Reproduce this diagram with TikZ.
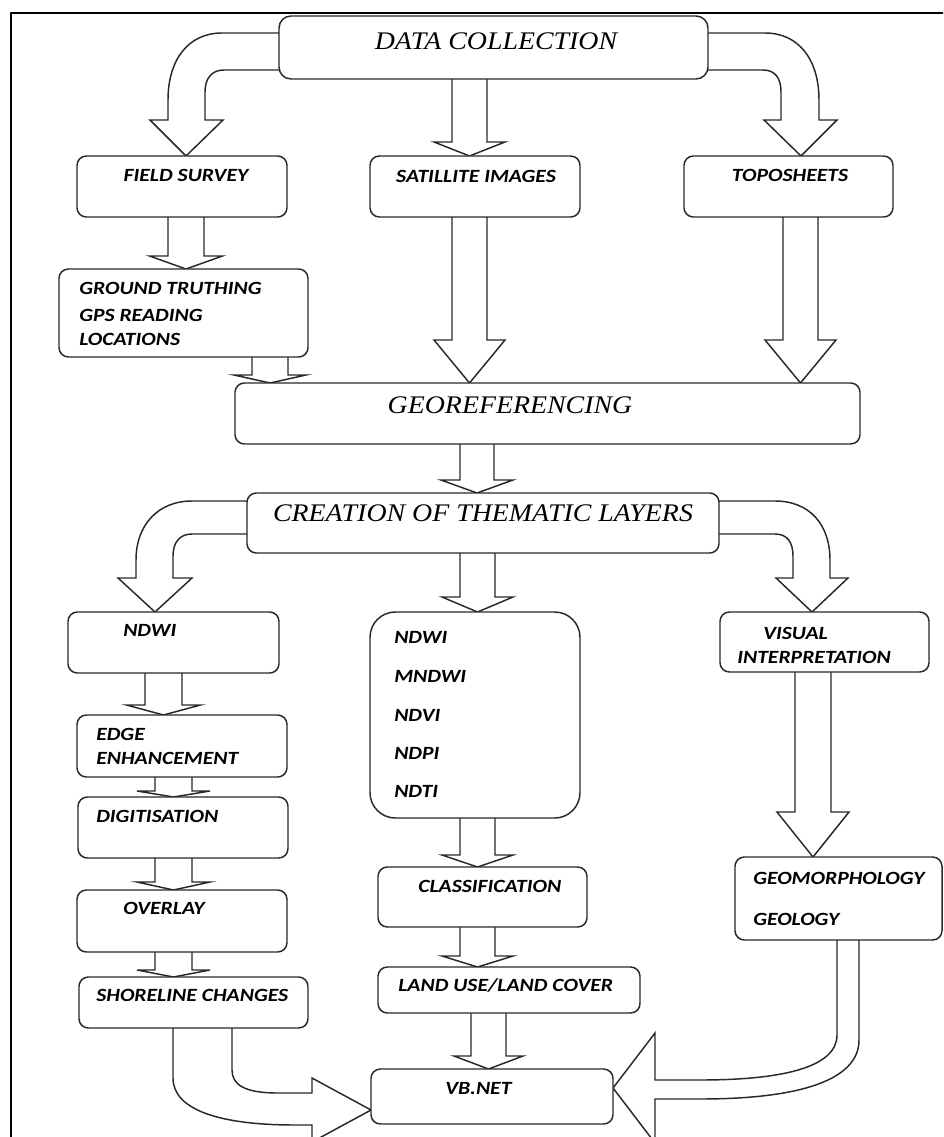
\documentclass[tikz,border=0pt]{standalone}
\usepackage{fontspec}
\setmainfont{Liberation Serif}
\newfontfamily\labfont[FakeStretch=1.16]{Carlito}
\newfontfamily\ttlfont[FakeStretch=1.1]{Liberation Serif}
\usetikzlibrary{backgrounds}
\definecolor{boxline}{RGB}{40,40,40}

\begin{document}
\begin{tikzpicture}[x=0.75pt,y=-0.75pt,line join=round,
    bx/.style 2 args={draw=boxline,line width=1.1pt,fill=white,rounded corners=7pt,
        inner sep=0pt,outer sep=0pt,minimum width=#1*0.75pt,minimum height=#2*0.75pt},
    blk/.style={draw=boxline,line width=1.1pt,fill=white,line join=miter},
    lab/.style={font=\labfont\bfseries\itshape\fontsize{14}{16}\selectfont,inner sep=0pt,anchor=west},
    ttl/.style={font=\ttlfont\itshape\fontsize{19}{22}\selectfont,inner sep=0pt}]
    \useasboundingbox (0,0) rectangle (943,1137);
    \clip (0,0) rectangle (943,1137);

    \draw[black,line width=1.1pt] (11,1140) -- (11,13) -- (946,13);

    \node[bx={429}{63},rounded corners=9pt] (dc) at (493.5,47.5) {};
    \node[bx={210}{61}] (fs) at (182,186.5) {};
    \node[bx={210}{61}] (si) at (475,186.5) {};
    \node[bx={209}{61}] (tp) at (788.5,186.5) {};
    \node[bx={249}{88}] (gt) at (183.5,313) {};
    \node[bx={625}{61}] (geo) at (547.5,413.5) {};
    \node[bx={472}{60}] (ctl) at (483,523) {};
    \node[bx={211}{61}] (nd) at (173.5,642.5) {};
    \node[bx={210}{206},rounded corners=19pt] (ix) at (475,715) {};
    \node[bx={209}{60}] (vi) at (824.5,642) {};
    \node[bx={210}{62}] (ee) at (182,746) {};
    \node[bx={210}{61}] (dg) at (183,827.5) {};
    \node[bx={210}{62}] (ov) at (182,921) {};
    \node[bx={229}{51}] (sc) at (193.5,1002.5) {};
    \node[bx={209}{60}] (cl) at (482.5,897) {};
    \node[bx={262}{46}] (lu) at (509,990) {};
    \node[bx={242}{55}] (vb) at (492,1096.5) {};
    \node[bx={207}{83}] (gg) at (838.5,898.5) {};

    \node[ttl] (dc-t) at (496,41) {DATA COLLECTION};
    \node[ttl] (geo-t) at (510,405) {GEOREFERENCING};
    \node[ttl] (ctl-t) at (483,513) {CREATION OF THEMATIC LAYERS};

    \node[lab,anchor=center] (fs-t) at (186,175) {FIELD SURVEY};
    \node[lab,anchor=center] (si-t) at (476,176) {SATILLITE IMAGES};
    \node[lab,anchor=center] (tp-t) at (790,175) {TOPOSHEETS};
    \foreach \y/\t [count=\i] in {288/GROUND TRUTHING,315/GPS READING,339/LOCATIONS} {
        \node[lab] (gt-\i) at (79,\y) {\t};
    }
    \foreach \y/\t [count=\i] in {637/NDWI,676/MNDWI,715/NDVI,753/NDPI,791/NDTI} {
        \node[lab] (ix-\i) at (394,\y) {\t};
    }
    \node[lab] (nd-t) at (123,630) {NDWI};
    \node[lab] (vi-1) at (763,633) {VISUAL};
    \node[lab] (vi-2) at (737,657) {INTERPRETATION};
    \node[lab] (ee-1) at (96,734) {EDGE};
    \node[lab] (ee-2) at (96,758) {ENHANCEMENT};
    \node[lab] (dg-t) at (96,816) {DIGITISATION};
    \node[lab] (ov-t) at (123,908) {OVERLAY};
    \node[lab] (sc-t) at (96,995) {SHORELINE CHANGES};
    \node[lab] (cl-t) at (418,886) {CLASSIFICATION};
    \node[lab] (lu-t) at (398,986) {LAND USE/LAND COVER};
    \node[lab] (vb-t) at (445,1088) {VB.NET};
    \node[lab] (gg-1) at (753,878) {GEOMORPHOLOGY};
    \node[lab] (gg-2) at (753,919) {GEOLOGY};

    \begin{scope}[on background layer]
        \foreach \a/\b/\xc/\s/\h/\yb in {dc/si/469.5/17.5/35.5/142, si/geo/469.5/17.5/35.5/340,
                tp/geo/800.5/17.5/35.5/340, fs/gt/186/18/36.5/256, gt/geo/270/18/36/375,
                geo/ctl/477/17/36/480, ctl/ix/477.5/17.5/35.5/597, nd/ee/163.5/18.5/37/705,
                ee/dg/173.5/18.5/36.5/791, dg/ov/173.5/18.5/36.5/882, ov/sc/173.5/18.5/36.5/970,
                ix/cl/477.5/17.5/35.5/855, cl/lu/477.5/17.5/35.5/956, lu/vb/488.5/17.5/34.5/1056,
                vi/gg/813/18/36/812} {
            \draw[blk] ({\xc-\s},0 |- \a.south) -- ({\xc-\s},\yb) -- ({\xc-\h},\yb)
                -- (\xc,0 |- \b.north) -- ({\xc+\h},\yb) -- ({\xc+\s},\yb) -- ({\xc+\s},0 |- \a.south);
        }

        \draw[blk] (dc.west |- 0,33) -- (222,33) .. controls (188,33) and (168,60) .. (168,100)
            -- (168,120) -- (150,120) -- (186,0 |- fs.north) -- (223,120) -- (205,120) -- (205,92)
            .. controls (205,78) and (212,70) .. (224,70) -- (dc.west |- 0,70);
        \draw[blk] (dc.east |- 0,33) -- (765,33) .. controls (799,33) and (819,60) .. (819,100)
            -- (819,120) -- (837,120) -- (801,0 |- tp.north) -- (764,120) -- (781,120) -- (781,92)
            .. controls (781,78) and (775,70) .. (763,70) -- (dc.east |- 0,70);
        \draw[blk] (ctl.west |- 0,501) -- (192,501) .. controls (158,501) and (136,525) .. (136,560)
            -- (136,578) -- (118,578) -- (155,0 |- nd.north) -- (192,578) -- (173,578) -- (173,556)
            .. controls (173,542) and (180,534) .. (192,534) -- (ctl.west |- 0,534);
        \draw[blk] (ctl.east |- 0,501) -- (775,501) .. controls (810,501) and (830,525) .. (830,560)
            -- (830,578) -- (848,578) -- (812,0 |- vi.north) -- (776,578) -- (793,578) -- (793,556)
            .. controls (793,542) and (787,534) .. (775,534) -- (ctl.east |- 0,534);

        \draw[blk] (173,0 |- sc.south) -- (173,1078) .. controls (173,1110) and (220,1125) .. (295,1125)
            -- (312,1125) -- (312,1142) -- (vb.west |- 0,1110) -- (312,1078) -- (312,1093) -- (278,1093)
            .. controls (245,1093) and (232,1085) .. (232,1070) -- (232,0 |- sc.south);
        \draw[blk] (837,0 |- gg.south) -- (837,1035) .. controls (837,1068) and (780,1080) .. (700,1080)
            -- (655,1080) -- (655,1033) -- (vb.east |- 0,1088) -- (655,1143) -- (655,1099) -- (700,1099)
            .. controls (800,1099) and (859,1080) .. (859,1040) -- (859,0 |- gg.south);
    \end{scope}
\end{tikzpicture}
\end{document}
